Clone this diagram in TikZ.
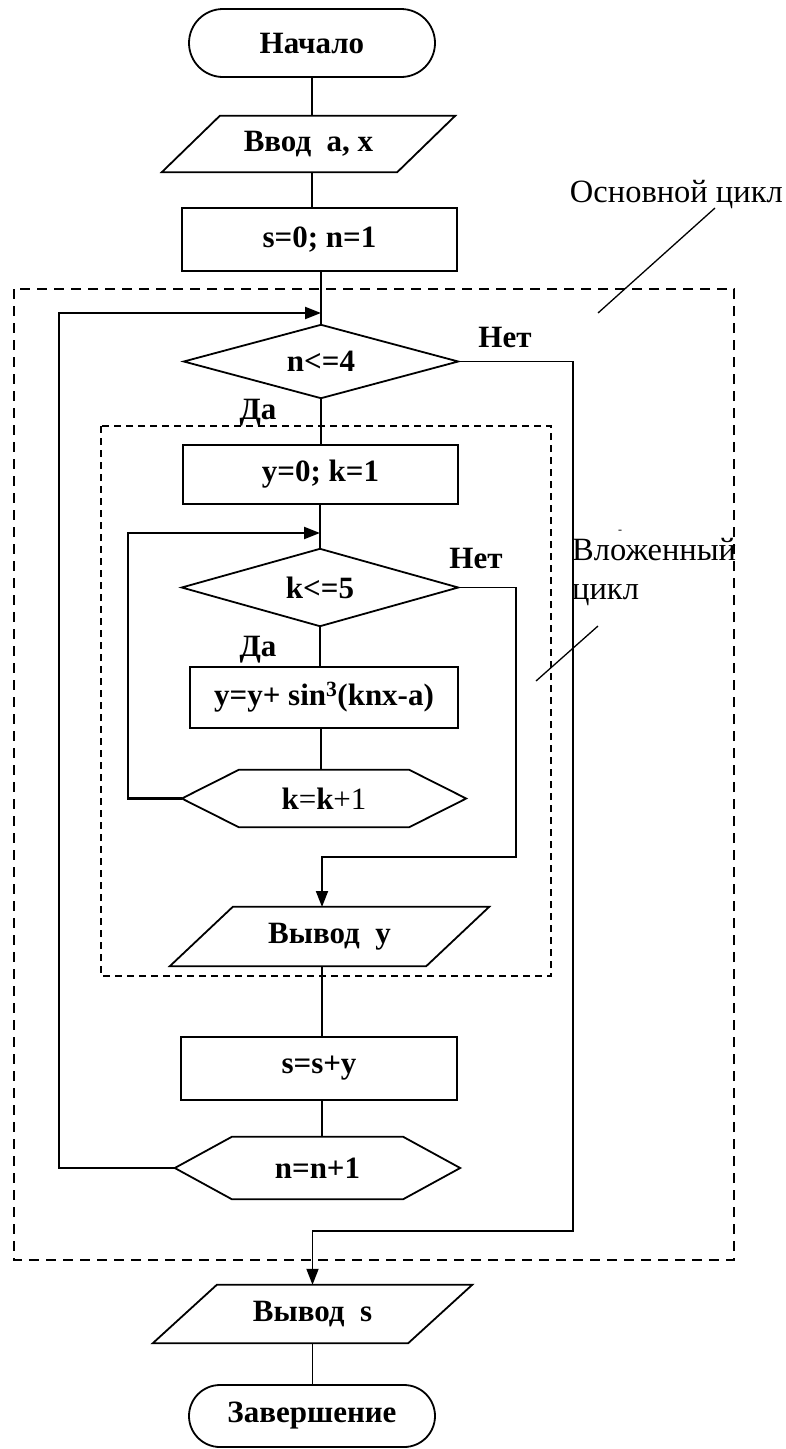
\documentclass[tikz,border=0pt]{standalone}
\usepackage{fontspec}
\setmainfont{Liberation Serif}
\usetikzlibrary{arrows.meta,calc}
\newcommand{\parapath}[2]{\draw[shapeline] (#1.south west) -- ([xshift=#2]#1.north west) -- (#1.north east) -- ([xshift=-#2]#1.south east) -- cycle;}
\newcommand{\hexpath}[2]{\draw[shapeline] (#1.west) -- ([xshift=#2]#1.north west) -- ([xshift=-#2]#1.north east) -- (#1.east) -- ([xshift=-#2]#1.south east) -- ([xshift=#2]#1.south west) -- cycle;}
\newcommand{\diapath}[1]{\draw[shapeline] (#1.west) -- (#1.north) -- (#1.east) -- (#1.south) -- cycle;}
\begin{document}
\begin{tikzpicture}[x=1pt,y=-1pt,
  shapeline/.style={line width=1.8pt, line join=miter},
  txt/.style={font=\fontsize{31}{35}\selectfont\bfseries},
  ghost/.style={txt, inner sep=0pt, draw=none},
  rectbox/.style={txt, draw, shapeline, inner sep=0pt},
  term/.style={txt, draw, shapeline, inner sep=0pt},
  conn/.style={line width=1.5pt},
  loopline/.style={line width=2.2pt},
  arr/.style={-{Triangle[length=16pt,width=12pt]}},
  lbl/.style={txt},
  note/.style={font=\fontsize{32.5}{39}\selectfont, inner sep=0pt},
  outerdash/.style={line width=2.5pt, dash pattern=on 10pt off 7pt},
  innerdash/.style={line width=1.5pt, dash pattern=on 7pt off 5pt}
]
\useasboundingbox (0,0) rectangle (786,1449);

% dashed loop frames
\draw[outerdash] (14,289) rectangle (734,1260);
\draw[innerdash] (101,426) rectangle (551,976);

% blocks
\node[term, rounded corners=34pt, minimum width=246pt, minimum height=68pt] (start) at (312,43) {Начало};
\node[ghost, minimum width=293pt, minimum height=56pt] (in) at (308.5,144) {Ввод~~a, x};
\parapath{in}{58pt}
\node[rectbox, minimum width=275pt, minimum height=63pt] (init) at (319.5,239.5) {s=0; n=1};
\node[ghost, minimum width=274pt, minimum height=73pt] (d1) at (321,361.5) {n<=4};
\diapath{d1}
\node[rectbox, minimum width=275pt, minimum height=59pt] (init2) at (320.5,474.5) {y=0; k=1};
\node[ghost, minimum width=276pt, minimum height=77pt] (d2) at (320,587.5) {k<=5};
\diapath{d2}
\node[rectbox, minimum width=268pt, minimum height=61pt] (body) at (324,697.5) {y=y+ sin\textsuperscript{3}(knx-a)};
\node[ghost, minimum width=284pt, minimum height=57pt] (incK) at (324,798.5) {k\mdseries=\bfseries k\mdseries+1};
\hexpath{incK}{57pt}
\node[ghost, minimum width=319pt, minimum height=59pt] (outy) at (329.5,936.5) {Вывод~~y};
\parapath{outy}{63pt}
\node[rectbox, minimum width=276pt, minimum height=63pt] (acc) at (319,1068.5) {s=s+y};
\node[ghost, minimum width=285pt, minimum height=62pt] (incN) at (317.5,1168) {n=n+1};
\hexpath{incN}{57pt}
\node[ghost, minimum width=319pt, minimum height=58pt] (outs) at (312.5,1314) {Вывод~~s};
\parapath{outs}{64pt}
\node[term, rounded corners=31pt, minimum width=246pt, minimum height=62pt] (end) at (312,1416) {Завершение};

% labels
\node[lbl] (no1) at (505,337) {Нет};
\node[lbl] (yes1) at (258,413) {Да};
\node[lbl] (no2) at (476,558) {Нет};
\node[lbl] (yes2) at (258,650) {Да};

% annotations
\node[note, anchor=east] (mainlbl) at (783,195) {Основной цикл};
\coordinate (mainA) at (715,208);
\coordinate (mainB) at (598,313);
\draw[line width=1.3pt] (mainA) -- (mainB);
\node[note, anchor=west, align=left] (nestlbl) at (572,572) {Вложенный\\цикл};
\node[font=\fontsize{12}{12}\selectfont, inner sep=0pt] (stray) at (620,532) {-};
\coordinate (nestA) at (598,626);
\coordinate (nestB) at (536,681);
\draw[line width=1.3pt] (nestA) -- (nestB);

% helper coordinates
\coordinate (lp1) at (321,313);
\coordinate (L1) at (59,313);
\coordinate (lk) at (320,533);
\coordinate (LK) at (128,533);
\coordinate (R1) at (573,1231);
\coordinate (R2) at (516,857);
\coordinate (oyin) at (322,907);

% straight connectors
\draw[conn] (start.south) -- (start.south |- in.north);
\draw[conn] (start.south |- in.south) -- (start.south |- init.north);
\draw[conn] (d1.north |- init.south) -- (d1.north);
\draw[conn] (d1.south) -- (d1.south |- init2.north);
\draw[conn] (d2.north |- init2.south) -- (d2.north);
\draw[conn] (d2.south) -- (d2.south |- body.north);
\draw[conn] ($(d2.south |- body.south)+(1,0)$) -- ($(d2.south |- incK.north)+(1,0)$);
\draw[conn] (oyin |- outy.south) -- (oyin |- acc.north);
\draw[conn] (oyin |- acc.south) -- (oyin |- incN.north);
\draw[conn] (outs.south) -- (outs.south |- end.north);

% loops and exits
\draw[loopline, arr] (incN.west) -| (L1) -- (lp1);
\draw[loopline, arr] (incK.west) -| (LK) -- (lk);
\draw[conn, line width=1.8pt, arr] (d1.east) -| (R1) -| (outs.north);
\draw[conn, line width=1.8pt, arr] (d2.east) -| (R2) -| (oyin);
\end{tikzpicture}
\end{document}
